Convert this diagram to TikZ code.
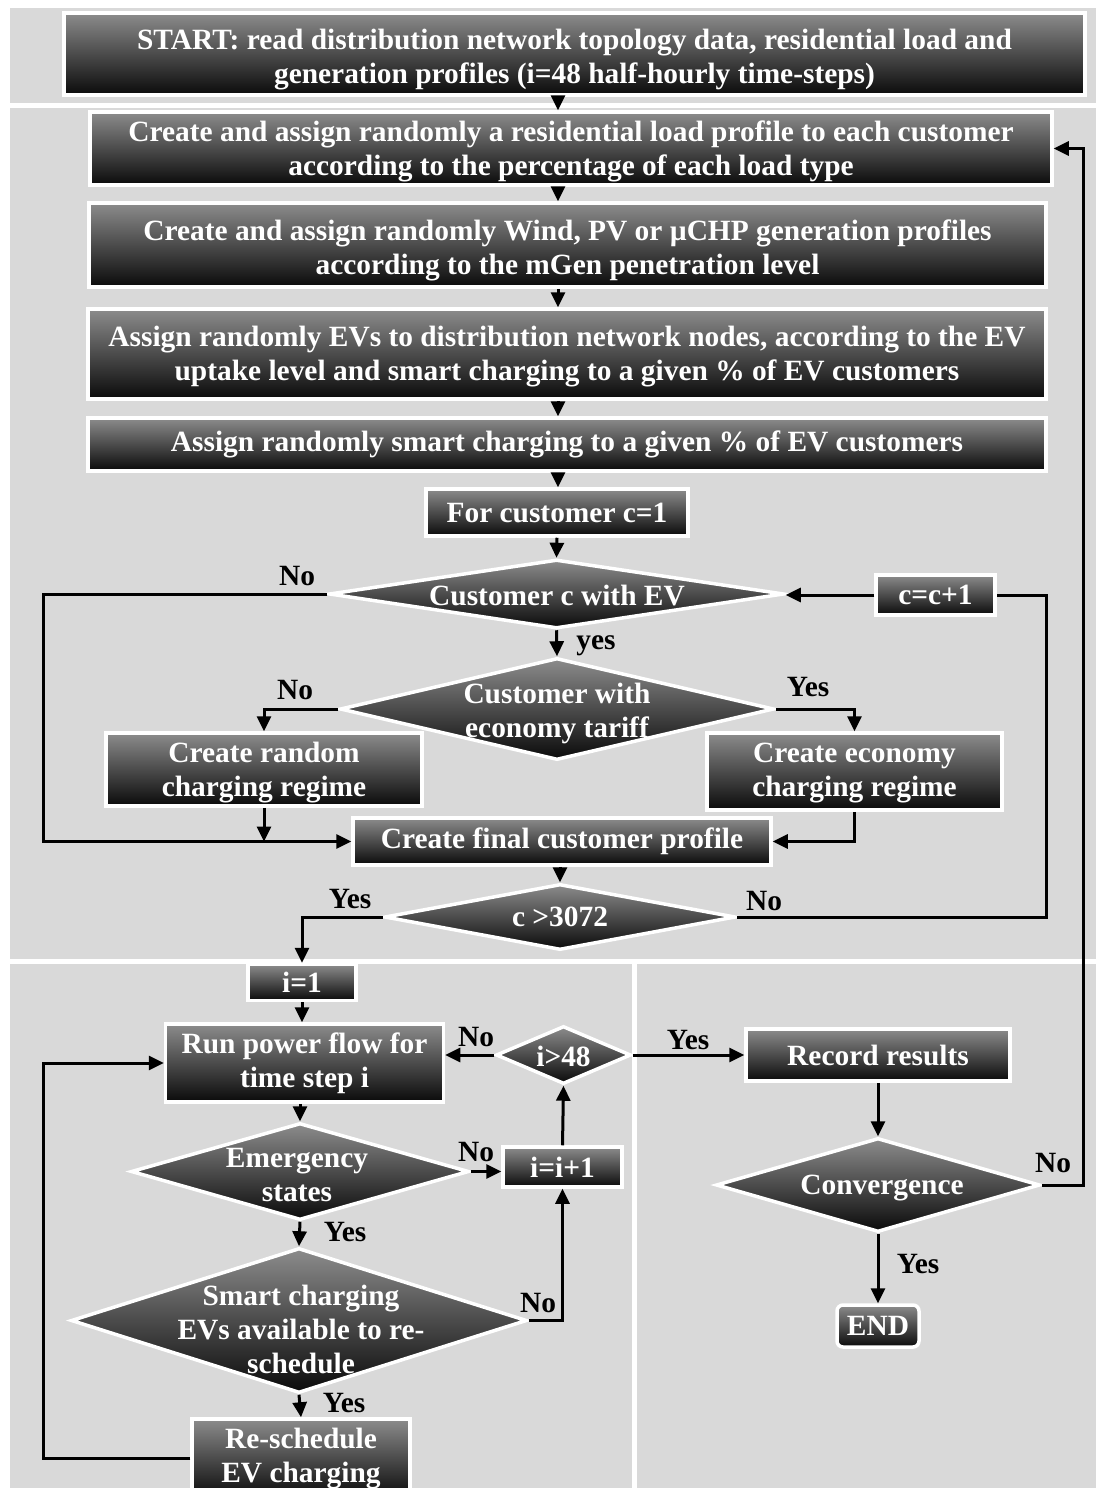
\documentclass[tikz,border=0pt]{standalone}
\usepackage{fontspec}
\setmainfont{Liberation Serif}
\usetikzlibrary{shapes.geometric,arrows.meta}
\definecolor{panel}{HTML}{D9D9D9}
\definecolor{shadetop}{HTML}{8C8C8C}
\definecolor{shadebot}{HTML}{0A0A0A}

\begin{document}
\begin{tikzpicture}[x=1pt,y=-1pt,
  font=\fontsize{29.4}{34}\selectfont\bfseries,
  box/.style={rectangle, draw=white, line width=3.5pt, top color=shadetop,
    bottom color=shadebot, text=white, align=center, inner sep=0pt},
  dia/.style={diamond, draw=white, line width=3.5pt, top color=shadetop,
    bottom color=shadebot, inner sep=0pt},
  dtext/.style={text=white, align=center, inner sep=0pt},
  lbl/.style={text=black, inner sep=0pt},
  link/.style={line width=3pt, -{Triangle[length=15pt,width=14pt]}},
  plain/.style={line width=3pt},
]
\useasboundingbox (0,0) rectangle (1096,1488);
\clip (0,0) rectangle (1096,1488);

% background panels
\fill[white] (0,0) rectangle (1096,1488);
\fill[panel] (10,8) rectangle (1096,103);
\fill[panel] (10,108) rectangle (1096,959);
\fill[panel] (10,964) rectangle (632,1488);
\fill[panel] (637,964) rectangle (1096,1488);

% guide columns for the routed connectors
\coordinate (spine) at (558,0);
\coordinate (lft) at (43,0);
\coordinate (rt1) at (1046,0);
\coordinate (rt2) at (1083,0);

% preparation steps
\node[box, minimum width=1021pt, minimum height=82pt] (start) at (574.5,54) {};
\node[dtext] (startt) at (574.5,60)
  {START: read distribution network topology data, residential load and\\generation profiles (i=48 half-hourly time-steps)};
\node[box, minimum width=962pt, minimum height=73pt] (resid) at (571,148.5) {};
\node[dtext] (residt) at (571,151.5)
  {Create and assign randomly a residential load profile to each customer\\according to the percentage of each load type};
\node[box, minimum width=957pt, minimum height=84pt] (gen) at (567.5,245) {};
\node[dtext] (gent) at (567.5,250)
  {Create and assign randomly Wind, PV or µCHP generation profiles\\according to the mGen penetration level};
\node[box, minimum width=958pt, minimum height=90pt] (evs) at (567,354) {};
\node[dtext] (evst) at (567,357)
  {Assign randomly EVs to distribution network nodes, according to the EV\\uptake level and smart charging to a given \% of EV customers};
\node[box, minimum width=958pt, minimum height=53pt] (smart) at (567,444.5)
  {Assign randomly smart charging to a given \% of EV customers};
\node[box, minimum width=262pt, minimum height=47pt] (c1) at (557,512.5)
  {For customer c=1};

% customer loop
\node[dia, minimum width=455pt, minimum height=69pt] (dEV) at (556.5,594) {};
\node[dtext] (dEVt) at (557,596) {Customer c with EV};
\node[box, minimum width=119pt, minimum height=40pt] (cc1) at (935.5,595) {c=c+1};
\node[dia, minimum width=434pt, minimum height=102pt] (dEco) at (557,709) {};
\node[dtext] (dEcot) at (557,713) {Customer with\\economy tariff};
\node[box, minimum width=316pt, minimum height=73pt] (rand) at (264,769.5) {};
\node[dtext] (randt) at (264,772.5) {Create random\\charging regime};
\node[box, minimum width=295pt, minimum height=77pt] (eco) at (854.5,771.5) {};
\node[dtext] (ecot) at (854.5,773.5) {Create economy\\charging regime};
\node[box, minimum width=418pt, minimum height=47pt] (final) at (562,841.5)
  {Create final customer profile};
\node[dia, minimum width=351pt, minimum height=66pt] (d3072) at (560,917) {};
\node[dtext] (d3072t) at (560,917) {c >3072};

% time-step loop
\node[box, minimum width=108pt, minimum height=36pt] (i1) at (302,982.5) {i=1};
\node[box, minimum width=278pt, minimum height=78pt] (run) at (304.5,1063)
  {Run power flow for\\time step i};
\node[dia, minimum width=135pt, minimum height=58pt] (d48) at (563.5,1055) {};
\node[dtext] (d48t) at (563.5,1056) {i>48};
\node[dia, minimum width=338pt, minimum height=97pt] (dEmer) at (300,1171.5) {};
\node[dtext] (dEmert) at (297,1175) {Emergency\\states};
\node[box, minimum width=119pt, minimum height=40pt] (iinc) at (562.5,1167) {i=i+1};
\node[dia, minimum width=456pt, minimum height=145pt] (dSmart) at (299,1320.5) {};
\node[dtext] (dSmartt) at (301,1329) {Smart charging\\EVs available to re-\\schedule};
\node[box, minimum width=218pt, minimum height=79pt] (resched) at (301,1458.5)
  {Re-schedule\\EV charging};

% results
\node[box, minimum width=264pt, minimum height=52pt] (record) at (878,1055) {Record results};
\node[dia, minimum width=324pt, minimum height=94pt] (dConv) at (878,1185) {};
\node[dtext] (dConvt) at (882,1188) {Convergence};
\node[box, rounded corners=6pt, minimum width=82pt, minimum height=42pt] (end) at (878,1326) {END};

% main sequence
\draw[link] (start.south -| spine) -- (resid.north -| spine);
\draw[link] (resid.south -| spine) -- (gen.north -| spine);
\draw[link] (gen.south -| spine) -- (evs.north -| spine);
\draw[link] (evs.south -| spine) -- (smart.north -| spine);
\draw[link] (smart.south -| spine) -- (c1.north -| spine);
\draw[link] (c1.south) -- (dEV.north);
\draw[link] (dEV.south) -- (dEco.north);
\draw[link] (dEV.west) -- (dEV.west -| lft) |- (final.west);
\draw[link] (dEco.west) -| (rand.north);
\draw[link] (dEco.east) -| (eco.north);
\draw[link] (rand.south) -- (rand.south |- final.west);
\draw[link] (eco.south) |- (final.east);
\draw[link] (final.south -| d3072) -- (d3072.north);
\draw[link] (d3072.west) -| (i1.north);
\draw[plain] (d3072.east) -- (d3072.east -| rt1) |- (cc1.east);
\draw[link] (cc1.west) -- (cc1.west -| dEV.east);

\draw[link] (i1.south) -- (i1.south |- run.north);
\draw[link] (run.south -| dEmer) -- (dEmer.north);
\draw[link] (dEmer.south) -- (dSmart.north);
\draw[link] (dEmer.east) -- (dEmer.east -| iinc.west);
\draw[link] (dSmart.east) -| (iinc.south);
\draw[link] (dSmart.south) -- (resched.north);
\draw[link] (resched.west) -- (resched.west -| lft) |- (run.west);
\draw[link] (iinc.north) -- (d48.south);
\draw[link] (d48.west) -- (d48.west -| run.east);
\draw[link] (d48.east) -- (record.west);
\draw[link] (record.south) -- (dConv.north);
\draw[link] (dConv.south) -- (end.north);
\draw[link] (dConv.east) -- (dConv.east -| rt2) |- (resid.east);

% branch labels
\node[lbl] (l1) at (297,576) {No};
\node[lbl] (l2) at (596,646) {yes};
\node[lbl] (l3) at (295,690) {No};
\node[lbl] (l4) at (808,687) {Yes};
\node[lbl] (l5) at (350,899) {Yes};
\node[lbl] (l6) at (764,901) {No};
\node[lbl] (l7) at (476,1037) {No};
\node[lbl] (l8) at (688,1040) {Yes};
\node[lbl] (l9) at (476,1152) {No};
\node[lbl] (l10) at (345,1232) {Yes};
\node[lbl] (l11) at (538,1303) {No};
\node[lbl] (l12) at (344,1403) {Yes};
\node[lbl] (l13) at (918,1264) {Yes};
\node[lbl] (l14) at (1053,1163) {No};
\end{tikzpicture}
\end{document}
